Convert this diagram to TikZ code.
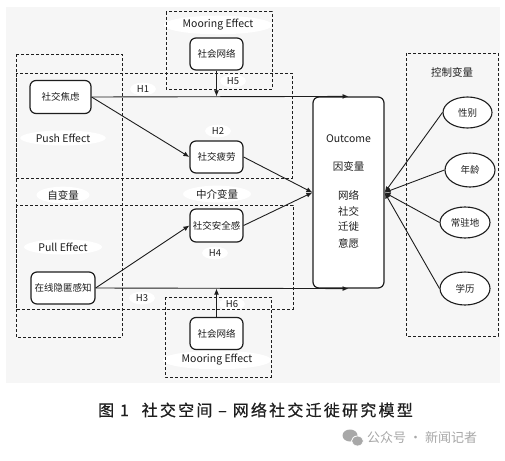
\documentclass[tikz,border=0pt]{standalone}
\usepackage{fontspec}
\setmainfont{Noto Sans CJK SC}
\newfontfamily\capfont[LetterSpace=14,FakeBold=0.6]{Noto Sans CJK SC}
\usetikzlibrary{shapes.geometric,arrows.meta}
\definecolor{bgc}{HTML}{F6F6F6}
\definecolor{ink}{HTML}{1E1E1E}
\definecolor{wm}{HTML}{A8A8A8}
\begin{document}
\begin{tikzpicture}[x=1pt,y=-1pt,
  font=\fontsize{9.5}{11}\selectfont, text=ink,
  box/.style={draw=ink, line width=1.2pt, rounded corners=6pt, fill=white, inner sep=0pt},
  ell/.style={draw=ink, ellipse, line width=1.1pt, fill=white, minimum width=50pt, minimum height=32pt, inner sep=0pt},
  dbox/.style={draw=ink, dash pattern=on 3pt off 2pt, line width=1pt},
  lbl/.style={ellipse, fill=white, inner xsep=3pt, inner ysep=1pt},
  txt/.style={inner sep=0pt},
  arr/.style={draw=ink, -{Latex[length=6pt,width=5pt]}, line width=0.9pt},
]
\useasboundingbox (0,0) rectangle (505,460);
\fill[white] (0,0) rectangle (505,460);
\fill[bgc] (6,7) rectangle (500,383);

% label ellipses
\node[lbl, font=\fontsize{10.5}{12}\selectfont] (me1) at (218,25) {Mooring Effect};
\node[lbl, font=\fontsize{10.5}{12}\selectfont] (push) at (63,138) {Push Effect};
\node[lbl, font=\fontsize{10.5}{12}\selectfont] (zbl) at (63,195) {自变量};
\node[lbl, font=\fontsize{10.5}{12}\selectfont] (zjbl) at (217,194) {中介变量};
\node[lbl, font=\fontsize{10.5}{12}\selectfont] (pull) at (63,247) {Pull Effect};
\node[lbl, font=\fontsize{10.5}{12}\selectfont] (me2) at (217,360) {Mooring Effect};
\node[lbl] (h1) at (143,89) {H1};
\node[lbl] (h2) at (218,131) {H2};
\node[lbl] (h3) at (142,298) {H3};
\node[lbl] (h4) at (215,253) {H4};
\node[lbl] (h5) at (233,81) {H5};
\node[lbl] (h6) at (232,304) {H6};
\node[txt, font=\fontsize{10.5}{12}\selectfont] (kz) at (452,72) {控制变量};

% dashed regions
\draw[dbox] (16,54) rectangle (122,337);
\draw[dbox] (16,73) rectangle (292,178);
\draw[dbox] (16,205) rectangle (293,309);
\draw[dbox] (166,12) rectangle (272,89);
\draw[dbox] (165,297) rectangle (271,377);
\draw[dbox] (406,53) rectangle (498,336);

% nodes
\node[box, minimum width=61pt, minimum height=33pt] (jl) at (60.5,97) {社交焦虑};
\node[box, minimum width=53pt, minimum height=32pt] (wn1) at (216.5,54) {社会网络};
\node[box, minimum width=53pt, minimum height=32pt] (pl) at (216.5,157) {社交疲劳};
\node[box, minimum width=53pt, minimum height=33pt] (aq) at (216.5,225.5) {社交安全感};
\node[box, minimum width=64pt, minimum height=32pt] (yn) at (63,288) {在线隐匿感知};
\node[box, minimum width=53pt, minimum height=32pt] (wn2) at (216.5,333.5) {社会网络};
\node[box, minimum width=71pt, minimum height=191pt] (out) at (348.5,192.5) {};

\node[txt, font=\fontsize{10.5}{12}\selectfont] (o1) at (348.5,139) {Outcome};
\node[txt, font=\fontsize{10.5}{12}\selectfont] (o2) at (348.5,166) {因变量};
\node[txt, font=\fontsize{10.5}{12}\selectfont] (o3) at (348.5,195) {网络};
\node[txt, font=\fontsize{10.5}{12}\selectfont] (o4) at (348.5,211) {社交};
\node[txt, font=\fontsize{10.5}{12}\selectfont] (o5) at (348.5,227) {迁徙};
\node[txt, font=\fontsize{10.5}{12}\selectfont] (o6) at (348.5,243) {意愿};

\node[ell, minimum width=49pt, minimum height=31pt] (xb) at (467.5,112.5) {性别};
\node[ell, minimum width=50pt, minimum height=34pt] (nl) at (470,170) {年龄};
\node[ell, minimum width=50pt, minimum height=31pt] (czd) at (465,222.5) {常驻地};
\node[ell, minimum width=50pt, minimum height=33pt] (xl) at (465,288.5) {学历};

% connectors
\draw[arr] (jl.east) -- (out.north);
\draw[arr] (wn1.south) -- (wn1.south |- out.north);
\draw[arr] (jl.east) -- (pl.west);
\draw[arr] (pl.east) -- (out.west);
\draw[arr] (yn.east) -- (aq.west);
\draw[arr] (aq.east) -- (out.west);
\draw[arr] (yn.east) -- (out.south);
\draw[arr] (wn2.north) -- (wn2.north |- out.south);
\draw[arr] (xb.west) -- (out.east);
\draw[arr] (nl.west) -- (out.east);
\draw[arr] (czd.west) -- (out.east);
\draw[arr] (xl.west) -- (out.east);

% caption
\node[txt, font=\capfont\fontsize{16}{18}\selectfont, text=ink] (cap) at (255.5,410) {图 1\hspace{0.8em}社交空间 – 网络社交迁徙研究模型};

% watermark
\fill[wm] (350,435.5) ellipse (7.5pt and 6pt);
\filldraw[wm, draw=white, line width=0.8pt] (357.5,441) ellipse (6pt and 5pt);
\node[txt, font=\fontsize{13}{15}\selectfont, text=wm, anchor=west] (wmt) at (367,438) {公众号 · 新闻记者};
\end{tikzpicture}
\end{document}
